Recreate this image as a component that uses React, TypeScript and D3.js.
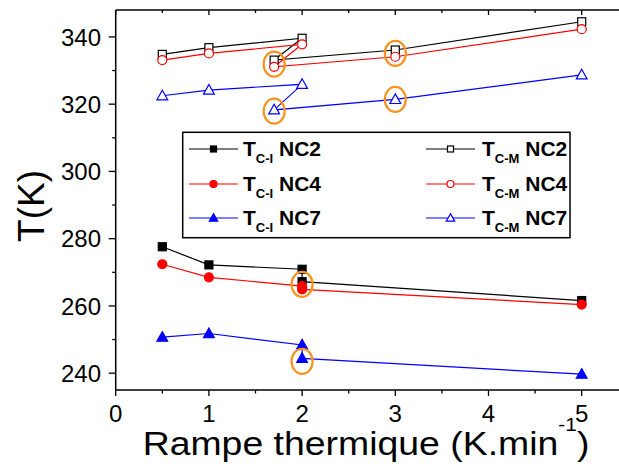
import React from "react";
import * as d3 from "d3";

const xOpen = [0.5, 1, 2, 1.7, 3, 5];
const tcmNC2 = [334.8, 336.8, 339.6, 333.1, 336.1, 344.5];
const tcmNC4 = [333.1, 335.1, 337.8, 331.1, 334.1, 342.3];
const tcmNC7 = [322.5, 324.2, 325.9, 318.3, 321.4, 328.7];

const xFilled = [0.5, 1, 2, 2, 5];
const tciNC2 = [277.6, 272.2, 270.9, 267.2, 261.6];
const tciNC4 = [272.4, 268.5, 265.9, 264.9, 260.4];
const tciNC7 = [250.7, 251.8, 248.4, 244.4, 239.7];

const highlightX = [1.7, 3, 1.7, 3, 2, 2];
const highlightY = [331.9, 335.1, 317.9, 321.4, 266.4, 243.5];

const xTicks = [0, 1, 2, 3, 4, 5];
const yTicks = [240, 260, 280, 300, 320, 340];

const FONT = "Arial, 'Liberation Sans', sans-serif";

type Series = {
  xs: number[];
  ys: number[];
  color: string;
  shape: "square" | "circle" | "triangle";
  filled: boolean;
  sub: string;
  name: string;
};

const seriesList: Series[] = [
  { xs: xFilled, ys: tciNC2, color: "#000000", shape: "square", filled: true, sub: "C-I", name: "NC2" },
  { xs: xFilled, ys: tciNC4, color: "#ff0000", shape: "circle", filled: true, sub: "C-I", name: "NC4" },
  { xs: xFilled, ys: tciNC7, color: "#0000ff", shape: "triangle", filled: true, sub: "C-I", name: "NC7" },
  { xs: xOpen, ys: tcmNC2, color: "#000000", shape: "square", filled: false, sub: "C-M", name: "NC2" },
  { xs: xOpen, ys: tcmNC4, color: "#ff0000", shape: "circle", filled: false, sub: "C-M", name: "NC4" },
  { xs: xOpen, ys: tcmNC7, color: "#0000ff", shape: "triangle", filled: false, sub: "C-M", name: "NC7" },
];

function Marker({ shape, filled, color, cx, cy, size }: { shape: string; filled: boolean; color: string; cx: number; cy: number; size: number }) {
  const fill = filled ? color : "#ffffff";
  const sw = 1.2;
  if (shape === "square") {
    return <rect x={cx - size / 2} y={cy - size / 2} width={size} height={size} fill={fill} stroke={color} strokeWidth={sw} />;
  }
  if (shape === "circle") {
    return <circle cx={cx} cy={cy} r={size / 2 + 0.5} fill={fill} stroke={color} strokeWidth={sw} />;
  }
  const h = size * 1.0;
  const w = size * 1.2;
  const p = `M${cx},${cy - h * 0.62} L${cx + w / 2},${cy + h * 0.45} L${cx - w / 2},${cy + h * 0.45} Z`;
  return <path d={p} fill={fill} stroke={color} strokeWidth={sw} />;
}

export default function App() {
  const W = 619, H = 466;
  const left = 115.7, top = 10, bottom = 390;
  const x = d3.scaleLinear().domain([0, 5]).range([left, left + 5 * 93.2]);
  const y = d3.scaleLinear().domain([235, 348]).range([bottom, top]);
  const line = d3.line<[number, number]>().x((d) => x(d[0])).y((d) => y(d[1]));

  const xMinor = d3.range(0.5, 5.6, 1);
  const yMinor = d3.range(250, 345, 20);

  const legRows = [149, 184, 218];
  const legCols = [{ lx: 189, mx: 213.5, lx2: 238, tx: 243 }, { lx: 426, mx: 450.5, lx2: 475, tx: 482 }];

  return (
    <svg width={W} height={H} style={{ position: "absolute", left: 0, top: 0, background: "#fff" }} fontFamily={FONT}>
      <rect x={0} y={0} width={W} height={H} fill="#fff" />
      {/* frame */}
      <line x1={left} y1={top} x2={W + 5} y2={top} stroke="#000" strokeWidth={1.5} />
      <line x1={left} y1={top} x2={left} y2={bottom} stroke="#000" strokeWidth={1.5} />
      <line x1={left} y1={bottom} x2={W + 5} y2={bottom} stroke="#000" strokeWidth={1.5} />

      {/* x ticks */}
      {xTicks.map((t) => (
        <g key={"xt" + t}>
          <line x1={x(t)} x2={x(t)} y1={bottom} y2={bottom + 6} stroke="#000" strokeWidth={1.3} />
          <line x1={x(t)} x2={x(t)} y1={top} y2={top + 5} stroke="#000" strokeWidth={1.3} />
          <text x={x(t)} y={422} textAnchor="middle" fontSize={24}>{t}</text>
        </g>
      ))}
      {xMinor.map((t) => (
        <g key={"xm" + t}>
          <line x1={x(t)} x2={x(t)} y1={bottom} y2={bottom + 3.5} stroke="#000" strokeWidth={1.3} />
          <line x1={x(t)} x2={x(t)} y1={top} y2={top + 3} stroke="#000" strokeWidth={1.3} />
        </g>
      ))}
      {/* y ticks */}
      {yTicks.map((t) => (
        <g key={"yt" + t}>
          <line x1={left - 7} x2={left} y1={y(t)} y2={y(t)} stroke="#000" strokeWidth={1.3} />
          <text x={101} y={y(t)} dy="0.36em" textAnchor="end" fontSize={24}>{t}</text>
        </g>
      ))}
      {yMinor.map((t) => (
        <line key={"ym" + t} x1={left - 3.5} x2={left} y1={y(t)} y2={y(t)} stroke="#000" strokeWidth={1.3} />
      ))}

      {/* axis titles */}
      <text transform="translate(44,206) rotate(-90)" textAnchor="middle" fontSize={37}>T(K)</text>
      <text transform="translate(366,455) scale(1.1,1)" x={0} y={0} textAnchor="middle" fontSize={34}>
        Rampe thermique (K.min<tspan dy={-24} fontSize={19}>-1</tspan><tspan dy={24}>)</tspan>
      </text>

      {/* series lines */}
      {seriesList.map((s, i) => (
        <path key={"l" + i} d={line(s.xs.map((v, k) => [v, s.ys[k]] as [number, number])) || ""} fill="none" stroke={s.color} strokeWidth={1.2} />
      ))}
      {/* markers */}
      {seriesList.map((s, i) => (
        <g key={"m" + i}>
          {s.xs.map((v, k) => (
            <Marker key={k} shape={s.shape} filled={s.filled} color={s.color} cx={x(v)} cy={y(s.ys[k])} size={s.shape === "triangle" ? 9 : 8} />
          ))}
        </g>
      ))}

      {/* highlights */}
      {highlightX.map((hx, i) => (
        <ellipse key={"h" + i} cx={x(hx)} cy={y(highlightY[i])} rx={10.5} ry={12.5} fill="none" stroke="#f7931e" strokeWidth={2.2} />
      ))}

      {/* legend */}
      <rect x={182.7} y={132.3} width={387.3} height={105.4} fill="#fff" stroke="#000" strokeWidth={1.5} />
      {seriesList.map((s, i) => {
        const col = legCols[i < 3 ? 0 : 1];
        const ry = legRows[i % 3];
        return (
          <g key={"lg" + i}>
            <line x1={col.lx} x2={col.lx2} y1={ry} y2={ry} stroke={s.color} strokeWidth={1.2} />
            <Marker shape={s.shape} filled={s.filled} color={s.color} cx={col.mx} cy={ry} size={s.shape === "triangle" ? 7 : 6} />
            <text x={col.tx} y={ry + 7} fontSize={21} fontWeight="bold">
              T<tspan dy={7} fontSize={13}>{s.sub}</tspan><tspan dy={-7}>{" " + s.name}</tspan>
            </text>
          </g>
        );
      })}
    </svg>
  );
}
